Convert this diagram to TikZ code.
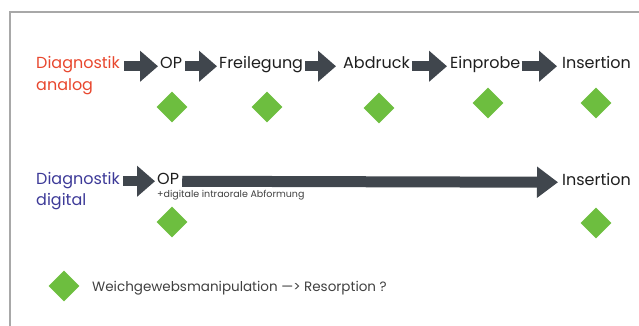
\documentclass[tikz,border=0pt]{standalone}
\usepackage{fontspec}
\setmainfont{Poppins}
\usetikzlibrary{arrows.meta,shapes.geometric}
\definecolor{redtxt}{HTML}{E8472E}
\definecolor{bluetxt}{HTML}{3D3A98}
\definecolor{arrcol}{HTML}{40464D}
\definecolor{grn}{HTML}{6DBE3F}
\definecolor{framecol}{HTML}{A8A8A8}
\definecolor{txtcol}{HTML}{1E1E1E}
\begin{document}
\begin{tikzpicture}[x=1pt,y=-1pt,
  lbl/.style={anchor=base west, inner sep=0pt, font=\fontsize{16}{19}\selectfont, text=txtcol},
  sublbl/.style={anchor=base west, inner sep=0pt, font=\fontsize{9.5}{11}\selectfont, text=txtcol!85},
  leglbl/.style={anchor=base west, inner sep=0pt, font=\fontsize{13.5}{16}\selectfont, text=txtcol!85},
  bigarrow/.style={draw=arrcol, line width=10pt, -{Triangle[width=30pt,length=18pt]}},
  longarrow/.style={draw=arrcol, line width=11pt, -{Triangle[width=30pt,length=21pt]}},
  gem/.style={diamond, fill=grn, draw=none, inner sep=0pt, minimum width=31pt, minimum height=31pt}
]
\useasboundingbox (0,0) rectangle (639,326);
\draw[framecol, line width=1.2pt] (10,326) -- (10,12) -- (639,12);

% row 1
\node[lbl, text=redtxt] (dA1) at (36,69) {Diagnostik};
\node[lbl, text=redtxt] (dA2) at (36,91) {analog};
\node[lbl] (op1) at (160,69) {OP};
\node[lbl] (fr) at (219,69) {Freilegung};
\node[lbl] (ab) at (343,69) {Abdruck};
\node[lbl] (ei) at (450,69) {Einprobe};
\node[lbl] (in1) at (562,69) {Insertion};
\draw[bigarrow] ([xshift=4pt]dA1.mid east) -- ([xshift=-2pt]op1.mid west);
\draw[bigarrow] ([xshift=3pt]op1.mid east) -- ([xshift=-2pt]fr.mid west);
\draw[bigarrow] ([xshift=2pt]fr.mid east) -- ([xshift=-7pt]ab.mid west);
\draw[bigarrow] ([xshift=2pt]ab.mid east) -- ([xshift=-3pt]ei.mid west);
\draw[bigarrow] ([xshift=1pt]ei.mid east) -- ([xshift=-5pt]in1.mid west);

\node[gem] (g1) at (172,107) {};
\node[gem] (g2) at (267,107) {};
\node[gem] (g3) at (379,108) {};
\node[gem] (g4) at (488,103) {};
\node[gem] (g5) at (596,103) {};

% row 2
\node[lbl, text=bluetxt] (dD1) at (36,184) {Diagnostik};
\node[lbl, text=bluetxt] (dD2) at (36,205) {digital};
\node[lbl] (op2) at (157,184) {OP};
\node[lbl] (in2) at (562,185) {Insertion};
\node[sublbl] (sub) at (157,197) {+digitale intraorale Abformung};
\draw[bigarrow] ([xshift=3pt]dD1.mid east) -- ([xshift=-2pt]op2.mid west);
\draw[longarrow] ([xshift=3pt]op2.mid east) -- ([xshift=-4pt]in2.mid west);

\node[gem] (g6) at (172,222) {};
\node[gem] (g7) at (596,223) {};

% legend
\node[gem] (g8) at (64,286) {};
\node[leglbl] (leg) at (92,291) {Weichgewebsmanipulation —> Resorption ?};
\end{tikzpicture}
\end{document}
